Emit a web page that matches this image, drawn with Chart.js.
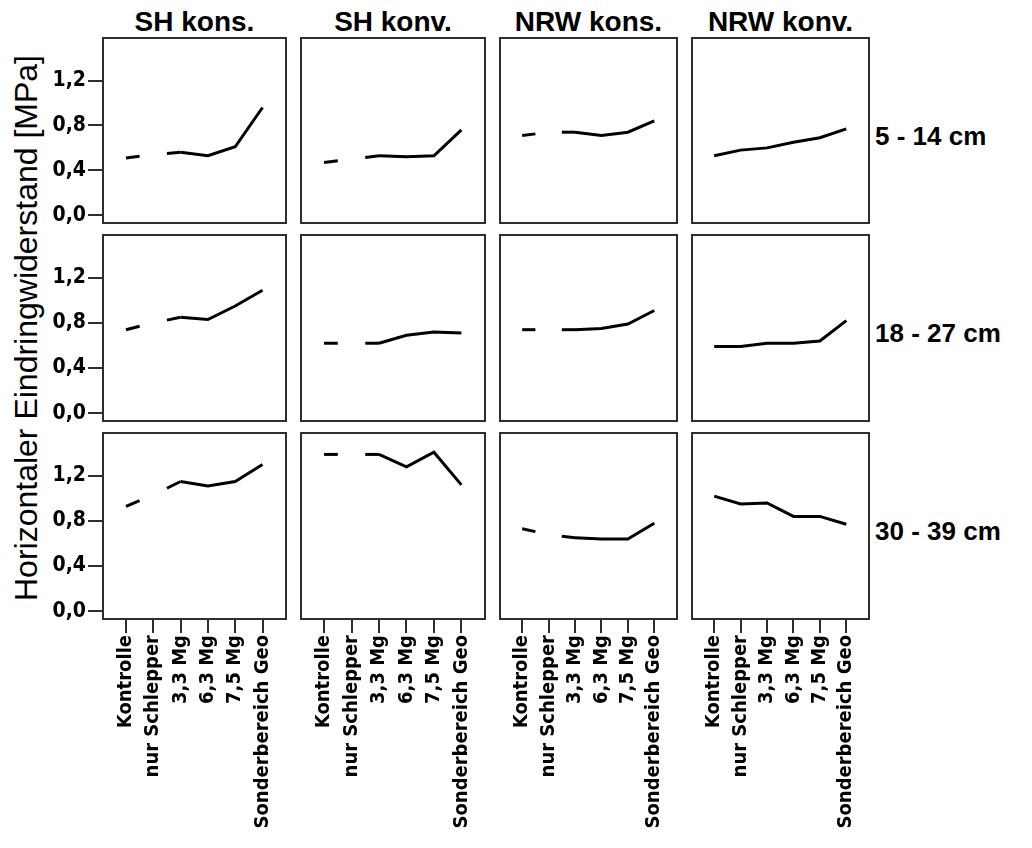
<!DOCTYPE html>
<html>
<head>
<meta charset="utf-8">
<script src="https://cdn.jsdelivr.net/npm/chart.js@4.4.1/dist/chart.umd.min.js"></script>
<style>
  body { margin: 0; background: #fff; width: 1032px; height: 848px; overflow: hidden; position: relative;
         font-family: "Liberation Sans", Arial, sans-serif; color: #000; }
  canvas { position: absolute; }
  .col-title { position: absolute; top: 8px; font-weight: bold; font-size: 28px; line-height: 28px;
               text-align: center; white-space: nowrap; }
  .row-label { position: absolute; left: 875px; font-weight: bold; font-size: 26px; line-height: 26px; white-space: nowrap; }
  .y-title { position: absolute; width: 600px; height: 36px; line-height: 36px; font-size: 32px;
             text-align: center; white-space: nowrap; transform: rotate(-90deg); }
</style>
</head>
<body>
<script>
// categories / labels
const categories = ['Kontrolle', 'nur Schlepper', '3,3 Mg', '6,3 Mg', '7,5 Mg', 'Sonderbereich Geo'];
const columnTitles = ['SH kons.', 'SH konv.', 'NRW kons.', 'NRW konv.'];
const depthLabels = ['5 - 14 cm', '18 - 27 cm', '30 - 39 cm'];
const yTickValues = [0, 0.4, 0.8, 1.2];
const yTitle = 'Horizontaler Eindringwiderstand [MPa]';

// values per depth (rows) and site (columns)
const shKons_5_14   = [0.51, 0.54, 0.56, 0.53, 0.61, 0.96];
const shKonv_5_14   = [0.47, 0.50, 0.53, 0.52, 0.53, 0.76];
const nrwKons_5_14  = [0.71, 0.74, 0.74, 0.71, 0.74, 0.84];
const nrwKonv_5_14  = [0.53, 0.58, 0.60, 0.65, 0.69, 0.77];

const shKons_18_27  = [0.74, 0.80, 0.85, 0.83, 0.95, 1.09];
const shKonv_18_27  = [0.62, 0.62, 0.62, 0.69, 0.72, 0.71];
const nrwKons_18_27 = [0.74, 0.74, 0.74, 0.75, 0.79, 0.91];
const nrwKonv_18_27 = [0.59, 0.59, 0.62, 0.62, 0.64, 0.82];

const shKons_30_39  = [0.93, 1.03, 1.15, 1.11, 1.15, 1.30];
const shKonv_30_39  = [1.39, 1.39, 1.39, 1.28, 1.41, 1.12];
const nrwKons_30_39 = [0.73, 0.68, 0.65, 0.64, 0.64, 0.78];
const nrwKonv_30_39 = [1.02, 0.95, 0.96, 0.84, 0.84, 0.77];

const panels = [
    [shKons_5_14, shKonv_5_14, nrwKons_5_14, nrwKonv_5_14],
    [shKons_18_27, shKonv_18_27, nrwKons_18_27, nrwKonv_18_27],
    [shKons_30_39, shKonv_30_39, nrwKons_30_39, nrwKonv_30_39]
];
// line is interrupted around "nur Schlepper" in these columns
const brokenAtSchlepper = [true, true, true, false];

// layout
const colBoxes = [[103, 286], [301, 485], [500, 677], [692, 869]];
const rowBoxes = [[38, 223], [235, 421], [433, 619]];
const Y_AXIS_W = 63;
const X_AXIS_H = 229;
const PAD = 3;
const EXTRA_BOTTOM = 10;

const tickFont = { family: "'DejaVu Sans Condensed', 'DejaVu Sans', sans-serif", weight: 'bold', size: 21 };
const catFont = { family: "'DejaVu Sans Condensed', 'DejaVu Sans', sans-serif", weight: 'bold', size: 20 };

const framePlugin = {
    id: 'frame',
    afterDatasetsDraw(chart) {
        const a = chart.chartArea;
        const ctx = chart.ctx;
        ctx.save();
        ctx.strokeStyle = '#2e2e2e';
        ctx.lineWidth = 2;
        ctx.strokeRect(a.left, a.top, a.right - a.left, a.bottom - a.top);
        ctx.restore();
    }
};

// show only the outer halves of the two segments touching "nur Schlepper"
const halfDash = (ctx) => {
    const len = Math.hypot(ctx.p1.x - ctx.p0.x, ctx.p1.y - ctx.p0.y);
    if (ctx.p0DataIndex === 0) return [len / 2, len * 2];
    if (ctx.p0DataIndex === 1) return [0, len / 2, len, len];
    return undefined;
};

const addDiv = (cls, text, style) => {
    const d = document.createElement('div');
    d.className = cls;
    d.textContent = text;
    Object.assign(d.style, style);
    document.body.appendChild(d);
};

columnTitles.forEach((t, c) => {
    const [l, r] = colBoxes[c];
    addDiv('col-title', t, { left: l + 'px', width: (r - l) + 'px' });
});

depthLabels.forEach((t, r) => {
    const [top, bottom] = rowBoxes[r];
    addDiv('row-label', t, { top: ((top + bottom) / 2 - 8) + 'px' });
});

addDiv('y-title', yTitle, { left: (26 - 300) + 'px', top: (328 - 18) + 'px' });

panels.forEach((rowSeries, row) => {
    rowSeries.forEach((values, col) => {
        const [bl, br] = colBoxes[col];
        const [bt, bb] = rowBoxes[row];
        const isLeft = col === 0;
        const isBottom = row === panels.length - 1;
        const left = bl - PAD - (isLeft ? Y_AXIS_W : 0);
        const top = bt - PAD;
        const width = (br - bl) + 2 * PAD + (isLeft ? Y_AXIS_W : 0);
        const bottomPad = isBottom ? PAD : EXTRA_BOTTOM;
        const height = (bb - bt) + PAD + bottomPad + (isBottom ? X_AXIS_H : 0);

        const canvas = document.createElement('canvas');
        canvas.width = width;
        canvas.height = height;
        canvas.style.left = left + 'px';
        canvas.style.top = top + 'px';
        canvas.style.width = width + 'px';
        canvas.style.height = height + 'px';
        document.body.appendChild(canvas);

        const dataset = {
            data: values.map((v, i) => ({ x: i, y: v })),
            borderColor: '#000',
            borderWidth: 3,
            pointRadius: 0,
            tension: 0,
            borderCapStyle: 'butt'
        };
        if (brokenAtSchlepper[col]) {
            dataset.segment = { borderDash: halfDash };
        }

        new Chart(canvas, {
            type: 'line',
            data: { datasets: [dataset] },
            options: {
                responsive: false,
                animation: false,
                events: [],
                devicePixelRatio: 1,
                layout: { padding: { left: PAD, right: PAD, top: PAD, bottom: bottomPad } },
                plugins: { legend: { display: false }, tooltip: { enabled: false } },
                scales: {
                    x: {
                        type: 'linear',
                        min: -0.84,
                        max: 5.86,
                        display: isBottom,
                        position: 'bottom',
                        border: { display: false },
                        grid: { drawOnChartArea: false, drawTicks: true, tickLength: 14, color: '#2e2e2e', lineWidth: 2 },
                        ticks: {
                            autoSkip: false,
                            minRotation: 90,
                            maxRotation: 90,
                            padding: 2,
                            color: '#000',
                            font: catFont,
                            callback: (v, i) => categories[i]
                        },
                        afterBuildTicks: (s) => { s.ticks = categories.map((c, i) => ({ value: i })); },
                        afterFit: (s) => {
                            if (!isBottom) return;
                            s.height = X_AXIS_H; s.paddingLeft = 0; s.paddingRight = 0;
                        }
                    },
                    y: {
                        min: -0.07,
                        max: 1.58,
                        display: isLeft,
                        border: { display: false },
                        grid: { drawOnChartArea: false, drawTicks: true, tickLength: 15, color: '#2e2e2e', lineWidth: 2 },
                        ticks: {
                            padding: 2,
                            color: '#000',
                            font: tickFont,
                            callback: (v) => v.toFixed(1).replace('.', ',')
                        },
                        afterBuildTicks: (s) => { s.ticks = yTickValues.map(v => ({ value: v })); },
                        afterFit: (s) => {
                            if (!isLeft) return;
                            s.width = Y_AXIS_W; s.paddingTop = 0; s.paddingBottom = 0;
                        }
                    }
                }
            },
            plugins: [framePlugin]
        });
    });
});
</script>
</body>
</html>
